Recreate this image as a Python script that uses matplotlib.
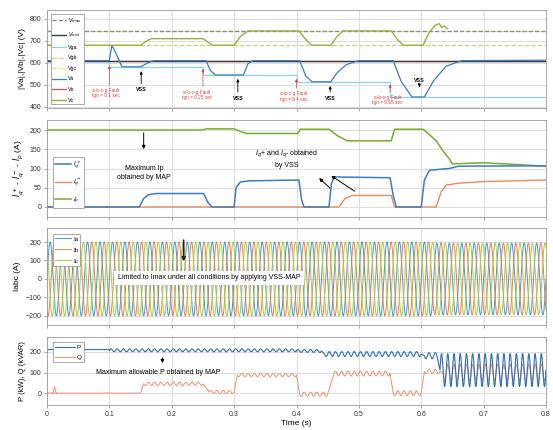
import numpy as np
import matplotlib
matplotlib.use("Agg")
import matplotlib.pyplot as plt

plt.rcParams['font.family'] = ['Liberation Sans', 'DejaVu Sans']

# ---------------- data ----------------
x_ticks = [0, 0.1, 0.2, 0.3, 0.4, 0.5, 0.6, 0.7, 0.8]
x_tick_labels = ['0', '0.1', '0.2', '0.3', '0.4', '0.5', '0.6', '0.7', '0.8']

# panel 1 : voltages
vmax_level = 745
vmin_level = 610
vga_t = [0, 0.1, 0.25, 0.4, 0.55, 0.8]
vga_v = [610, 582, 545, 514, 445, 445]
vgb_level = 680
vgc_level = 745
vb_level = 610
va_t = [0, 0.1, 0.104, 0.112, 0.12, 0.15, 0.16, 0.17, 0.255, 0.262, 0.27, 0.315,
        0.322, 0.33, 0.405, 0.415, 0.425, 0.455, 0.465, 0.48, 0.50, 0.555, 0.568,
        0.585, 0.605, 0.62, 0.64, 0.665, 0.8]
va_v = [610, 610, 680, 635, 582, 582, 597, 610, 610, 565, 545, 545,
        595, 610, 610, 540, 514, 514, 555, 592, 610, 610, 515,
        445, 445, 520, 585, 610, 612]
vc_t = [0, 0.15, 0.16, 0.168, 0.25, 0.258, 0.265, 0.30, 0.31, 0.322, 0.404, 0.415,
        0.425, 0.455, 0.465, 0.475, 0.552, 0.562, 0.571, 0.603, 0.612, 0.622, 0.629,
        0.633, 0.637, 0.642]
vc_v = [680, 680, 700, 710, 710, 695, 680, 680, 720, 745, 745, 705,
        680, 680, 720, 745, 745, 705, 680, 680, 735, 770, 778,
        760, 768, 755]
fault_times = [0.1, 0.25, 0.4, 0.55]
fault_labels = ['a-b-c-g Fault\ntgn = 0.1 sec', 'a-b-c-g Fault\ntgn = 0.25 sec',
                'a-b-c-g Fault\ntgn = 0.4 sec', 'a-b-c-g Fault\ntgn = 0.55 sec']
fault_text_t = [0.094, 0.240, 0.395, 0.546]
fault_text_v = [462, 455, 448, 432]
fault_arrow_v = [600, 585, 540, 515]
vss_t = [0.151, 0.306, 0.454]
vss_text_v = [478, 440, 440]
vss_arrow_v = [575, 540, 508]

# panel 2 : Iq+, Iq-, Ip
iqp_t = [0, 0.148, 0.155, 0.163, 0.175, 0.251, 0.258, 0.264, 0.300, 0.303, 0.31,
         0.325, 0.404, 0.408, 0.412, 0.452, 0.456, 0.46, 0.55, 0.555, 0.56, 0.60,
         0.605, 0.613, 0.63, 0.645, 0.66, 0.8]
iqp_v = [0, 0, 22, 32, 35, 35, 12, 0, 0, 50, 65,
         68, 70, 20, 0, 0, 60, 78, 76, 30, 0, 0,
         70, 95, 98, 100, 106, 107]
iqn_t = [0, 0.468, 0.478, 0.49, 0.552, 0.557, 0.624, 0.632, 0.64, 0.66, 0.7, 0.8]
iqn_v = [0, 0, 22, 30, 30, 0, 0, 40, 57, 62, 66, 70]
ip_t = [0, 0.25, 0.255, 0.30, 0.31, 0.32, 0.402, 0.406, 0.452, 0.465, 0.481, 0.552,
        0.557, 0.603, 0.615, 0.625, 0.635, 0.645, 0.65, 0.7, 0.8]
ip_v = [200, 200, 203, 203, 196, 191, 191, 202, 202, 186, 172, 172,
        202, 202, 185, 170, 145, 125, 112, 115, 106]

# panel 3 : phase currents (50 Hz, limited amplitude)
grid_freq = 50.0
iabc_seg_t0 = [0.0, 0.62]
iabc_seg_t1 = [0.62, 0.8]
iabc_amp = [200, 195]
iabc_phase_deg = [0, -120, 120]

# panel 4 : P and Q with ripple (segments)
ripple_freq = 100.0
p_seg_t0 = [0.0, 0.1, 0.40, 0.445, 0.605, 0.63]
p_seg_t1 = [0.1, 0.40, 0.44, 0.60, 0.625, 0.8]
p_center = [212, 208, 205, 190, 182, 112]
p_ripple = [0, 7, 7, 12, 15, 80]
q_seg_t0 = [0.0, 0.155, 0.26, 0.305, 0.405, 0.46, 0.555, 0.605, 0.635]
q_seg_t1 = [0.15, 0.25, 0.30, 0.40, 0.45, 0.55, 0.60, 0.63, 0.8]
q_center = [0, 45, 5, 88, -5, 95, 0, 105, 100]
q_ripple = [0, 8, 8, 8, 10, 12, 12, 10, 40]
q_spike_t = [0.009, 0.012, 0.015]
q_spike_v = [0, 30, 0]

# ---------------- colours ----------------
C_BLUE = '#3b7dc0'
C_LBLUE = '#8fd0ef'
C_RED = '#d9534f'
C_OLIVE = '#9fae3a'
C_LOLIVE = '#c8d47c'
C_LYEL = '#e8e08a'
C_GREEN = '#77ac30'
C_ORANGE = '#ec8a5c'
C_IA = '#3c9ad6'
C_IB = '#ec7f47'
C_IC = '#abcc3e'
C_P = '#2f6fb0'
C_Q = '#f0906e'


def ripple_series(t0s, t1s, centers, ripples, freq, pts_per_s=6000):
    ts, vs = [], []
    for a, b, c, r in zip(t0s, t1s, centers, ripples):
        n = max(int((b - a) * pts_per_s), 2)
        t = np.linspace(a, b, n)
        ts.append(t)
        vs.append(c + r * np.sin(2 * np.pi * freq * t))
    return np.concatenate(ts), np.concatenate(vs)


fig = plt.figure(figsize=(5.53, 4.30), dpi=100)
L = 47 / 553
W = 499 / 553
ax1 = fig.add_axes([L, 1 - 108 / 430, W, 98 / 430])
ax2 = fig.add_axes([L, 1 - 217 / 430, W, 97 / 430])
ax3 = fig.add_axes([L, 1 - 325 / 430, W, 97 / 430])
ax4 = fig.add_axes([L, 1 - 405 / 430, W, 68 / 430])

for ax in (ax1, ax2, ax3, ax4):
    ax.set_xlim(0, 0.8)
    ax.set_xticks(x_ticks)
    ax.grid(True, color='#d8d8d8', lw=0.6)
    ax.set_axisbelow(True)
    for s in ax.spines.values():
        s.set_color('#9a9a9a')
        s.set_linewidth(0.6)
    ax.tick_params(labelsize=5, length=2, width=0.5, color='#888888',
                   labelcolor='#333333', pad=2)
for ax in (ax1, ax2, ax3):
    ax.set_xticklabels([])
ax4.set_xticklabels(x_tick_labels)

# ---- panel 1 ----
ax1.plot([0, 0.8], [vgc_level, vgc_level], color=C_LYEL, lw=0.8, ls='--')
l_vmax, = ax1.plot([0, 0.8], [vmax_level, vmax_level], color='#8a8a8a', lw=1.0,
                   ls=(0, (3, 1.5)))
l_vgb, = ax1.plot([0, 0.8], [vgb_level, vgb_level], color=C_LOLIVE, lw=0.9, ls='--')
l_vga, = ax1.plot(vga_t, vga_v, color=C_LBLUE, lw=0.9, drawstyle='steps-post')
l_vb, = ax1.plot([0, 0.8], [vb_level, vb_level], color=C_RED, lw=0.9)
l_vmin, = ax1.plot([0, 0.8], [vmin_level, vmin_level], color='#3a3a3a', lw=1.0)
l_va, = ax1.plot(va_t, va_v, color=C_BLUE, lw=0.9)
l_vc, = ax1.plot(vc_t, vc_v, color=C_OLIVE, lw=1.0)
l_vgc = plt.Line2D([], [], color=C_LYEL, lw=0.9, ls='--')
ax1.set_ylim(395, 840)
ax1.set_yticks([400, 500, 600, 700, 800])
ax1.set_ylabel('|Va|,|Vb|,|Vc| (V)', fontsize=6, labelpad=3)
leg1 = ax1.legend([l_vmax, l_vmin, l_vga, l_vgb, l_vgc, l_va, l_vb, l_vc],
                  [r'$V_{max}$', r'$V_{min}$', 'Vga', 'Vgb', 'Vgc', 'Va', 'Vb', 'Vc'],
                  loc='upper left', bbox_to_anchor=(0.002, 0.985), fontsize=3.8,
                  labelspacing=1.05, handlelength=2.6, borderpad=0.35,
                  handletextpad=0.4, fancybox=False, edgecolor='#8a8a8a', framealpha=1)
leg1.get_frame().set_linewidth(0.5)

for ft, lab, tt, tv, av in zip(fault_times, fault_labels, fault_text_t, fault_text_v,
                               fault_arrow_v):
    ax1.text(tt, tv, lab, color='#e0403a', fontsize=3.4, ha='center', va='center',
             linespacing=1.1)
    ax1.annotate('', xy=(ft, av), xytext=(ft, tv + 25),
                 arrowprops=dict(arrowstyle='-|>', color='#e0403a', lw=0.5,
                                 mutation_scale=4))
for vt, tv, av in zip(vss_t, vss_text_v, vss_arrow_v):
    ax1.text(vt, tv, 'VSS', fontsize=3.8, ha='center', va='center', fontweight='bold')
    ax1.annotate('', xy=(vt, av), xytext=(vt, tv + 15),
                 arrowprops=dict(arrowstyle='-|>', color='k', lw=0.6,
                                 mutation_scale=4))
ax1.text(0.597, 522, 'VSS', fontsize=3.8, ha='center', va='center', fontweight='bold')
ax1.annotate('', xy=(0.597, 478), xytext=(0.597, 508),
             arrowprops=dict(arrowstyle='-|>', color='k', lw=0.6, mutation_scale=4))

# ---- panel 2 ----
l_ip, = ax2.plot(ip_t, ip_v, color=C_GREEN, lw=1.1)
l_iqn, = ax2.plot(iqn_t, iqn_v, color=C_ORANGE, lw=1.0)
l_iqp, = ax2.plot(iqp_t, iqp_v, color=C_BLUE, lw=1.1)
ax2.set_ylim(-26, 226)
ax2.set_yticks([0, 50, 100, 150, 200])
ax2.set_ylabel(r'$I_q^+$ - $I_q^-$ - $I_p$ (A)', fontsize=6, labelpad=3)
leg2 = ax2.legend([l_iqp, l_iqn, l_ip], [r'$I_q^+$', r'$I_q^-$', r'$I_p$'],
                  loc='lower left', bbox_to_anchor=(0.005, 0.06), fontsize=4.5,
                  labelspacing=1.1, handlelength=2.6, borderpad=0.4,
                  handletextpad=0.3, fancybox=False, edgecolor='#8a8a8a', framealpha=1)
leg2.get_frame().set_linewidth(0.5)
ax2.text(0.156, 88, 'Maximum Ip\nobtained by MAP', fontsize=5, ha='center',
         va='center', linespacing=1.3)
ax2.annotate('', xy=(0.155, 143), xytext=(0.155, 200),
             arrowprops=dict(arrowstyle='-|>', color='k', lw=0.7, mutation_scale=5))
ax2.text(0.384, 125, r'$I_q$+ and $I_q$- obtained' + '\nby VSS', fontsize=5,
         ha='center', va='center', linespacing=1.4)
ax2.annotate('', xy=(0.433, 80), xytext=(0.457, 44),
             arrowprops=dict(arrowstyle='-|>', color='k', lw=0.7, mutation_scale=5))
ax2.annotate('', xy=(0.452, 85), xytext=(0.497, 37),
             arrowprops=dict(arrowstyle='-|>', color='k', lw=0.7, mutation_scale=5))

# ---- panel 3 ----
tt = np.linspace(0, 0.8, 16001)
amp = np.zeros_like(tt)
for a, b, A in zip(iabc_seg_t0, iabc_seg_t1, iabc_amp):
    amp[(tt >= a) & (tt <= b)] = A
cols3 = [C_IA, C_IB, C_IC]
labs3 = ['Ia', 'Ib', 'Ic']
h3 = []
for ph, c, lab in zip(iabc_phase_deg, cols3, labs3):
    y = amp * np.sin(2 * np.pi * grid_freq * tt + np.deg2rad(ph))
    h, = ax3.plot(tt, y, color=c, lw=0.7, label=lab)
    h3.append(h)
ax3.set_ylim(-250, 276)
ax3.set_yticks([-200, -100, 0, 100, 200])
ax3.set_ylabel('Iabc (A)', fontsize=6, labelpad=3)
leg3 = ax3.legend(h3, labs3, loc='upper left', bbox_to_anchor=(0.005, 0.97),
                  fontsize=4.5, labelspacing=0.9, handlelength=2.6, borderpad=0.35,
                  handletextpad=0.3, fancybox=False, edgecolor='#8a8a8a', framealpha=1)
leg3.get_frame().set_linewidth(0.5)
ax3.text(0.26, 5, 'Limited to Imax under all conditions by applying VSS-MAP',
         fontsize=5, ha='center', va='center',
         bbox=dict(boxstyle='square,pad=0.5', fc='white', ec='none'))
ax3.annotate('', xy=(0.219, 80), xytext=(0.219, 225),
             arrowprops=dict(arrowstyle='-|>', color='#222222', lw=1.2,
                             mutation_scale=5))

# ---- panel 4 ----
qt, qv = ripple_series(q_seg_t0, q_seg_t1, q_center, q_ripple, ripple_freq)
pt, pv = ripple_series(p_seg_t0, p_seg_t1, p_center, p_ripple, ripple_freq)
l_q, = ax4.plot(qt, qv, color=C_Q, lw=0.7)
ax4.plot(q_spike_t, q_spike_v, color=C_Q, lw=0.7)
l_p, = ax4.plot(pt, pv, color=C_P, lw=0.8)
ax4.set_ylim(-58, 273)
ax4.set_yticks([0, 100, 200])
ax4.set_ylabel('P (kW), Q (kVAR)', fontsize=5.5, labelpad=3)
leg4 = ax4.legend([l_p, l_q], ['P', 'Q'], loc='upper left',
                  bbox_to_anchor=(0.005, 0.97), fontsize=4.5, labelspacing=0.8,
                  handlelength=3.2, borderpad=0.35, handletextpad=0.3,
                  fancybox=False, edgecolor='#8a8a8a', framealpha=1)
leg4.get_frame().set_linewidth(0.5)
ax4.text(0.178, 98, 'Maximum allowable P obtained by MAP', fontsize=5,
         ha='center', va='center')
ax4.annotate('', xy=(0.185, 132), xytext=(0.185, 185),
             arrowprops=dict(arrowstyle='-|>', color='k', lw=0.7, mutation_scale=5))
ax4.set_xlabel('Time (s)', fontsize=6, labelpad=2)

fig.savefig('out.png', dpi=100)
